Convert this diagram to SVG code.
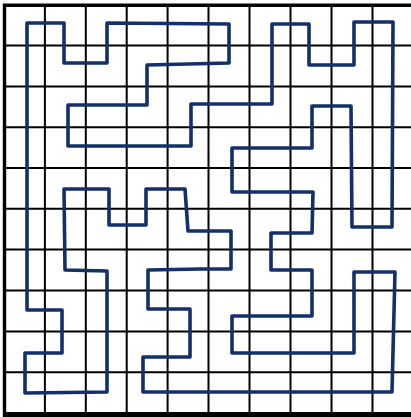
<svg xmlns="http://www.w3.org/2000/svg" width="411" height="417" viewBox="0 0 411 417">
<style>
.g{stroke:#000;stroke-width:2;fill:none}
.b{stroke:#000;stroke-width:3.4;fill:none}
.p{stroke:#13306b;stroke-width:3.6;fill:none;stroke-linejoin:round;stroke-linecap:round}
</style>
<rect width="411" height="417" fill="#fff"/>
<g id="grid">
<path class="g" d="M44.9 5V413M85.8 5V413M126.7 5V413M167.6 5V413M208.5 5V413M249.5 5V413M290.5 5V413M331.5 5V413M372.5 5V413"/>
<path class="g" d="M4.5 45.6H411M4.5 86.4H411M4.5 127.2H411M4.5 168H411M4.5 208.8H411M4.5 249.6H411M4.5 290.5H411M4.5 331.4H411M4.5 372.3H411"/>
<path class="b" d="M4.5 417V5.2H411"/>
<path stroke="#000" stroke-width="5" d="M3 414.5H411"/>
</g>
<g id="path">
<path class="p" d="M27 23H64V63H107V23L229 24V63L147 65V105H68V146H191V104H272V24H309V65H354V22H393L392 227H352L351 106H312V148H232V192H313L312 233H271V270H312V316H232V353H354V272H395L392 392H143V357H190V309H148V270L200 269H231V231H188L185 189H146V225H109V189H64L65 270L107 271V392L25 393V353H62V310H27Z"/>
</g>
</svg>
